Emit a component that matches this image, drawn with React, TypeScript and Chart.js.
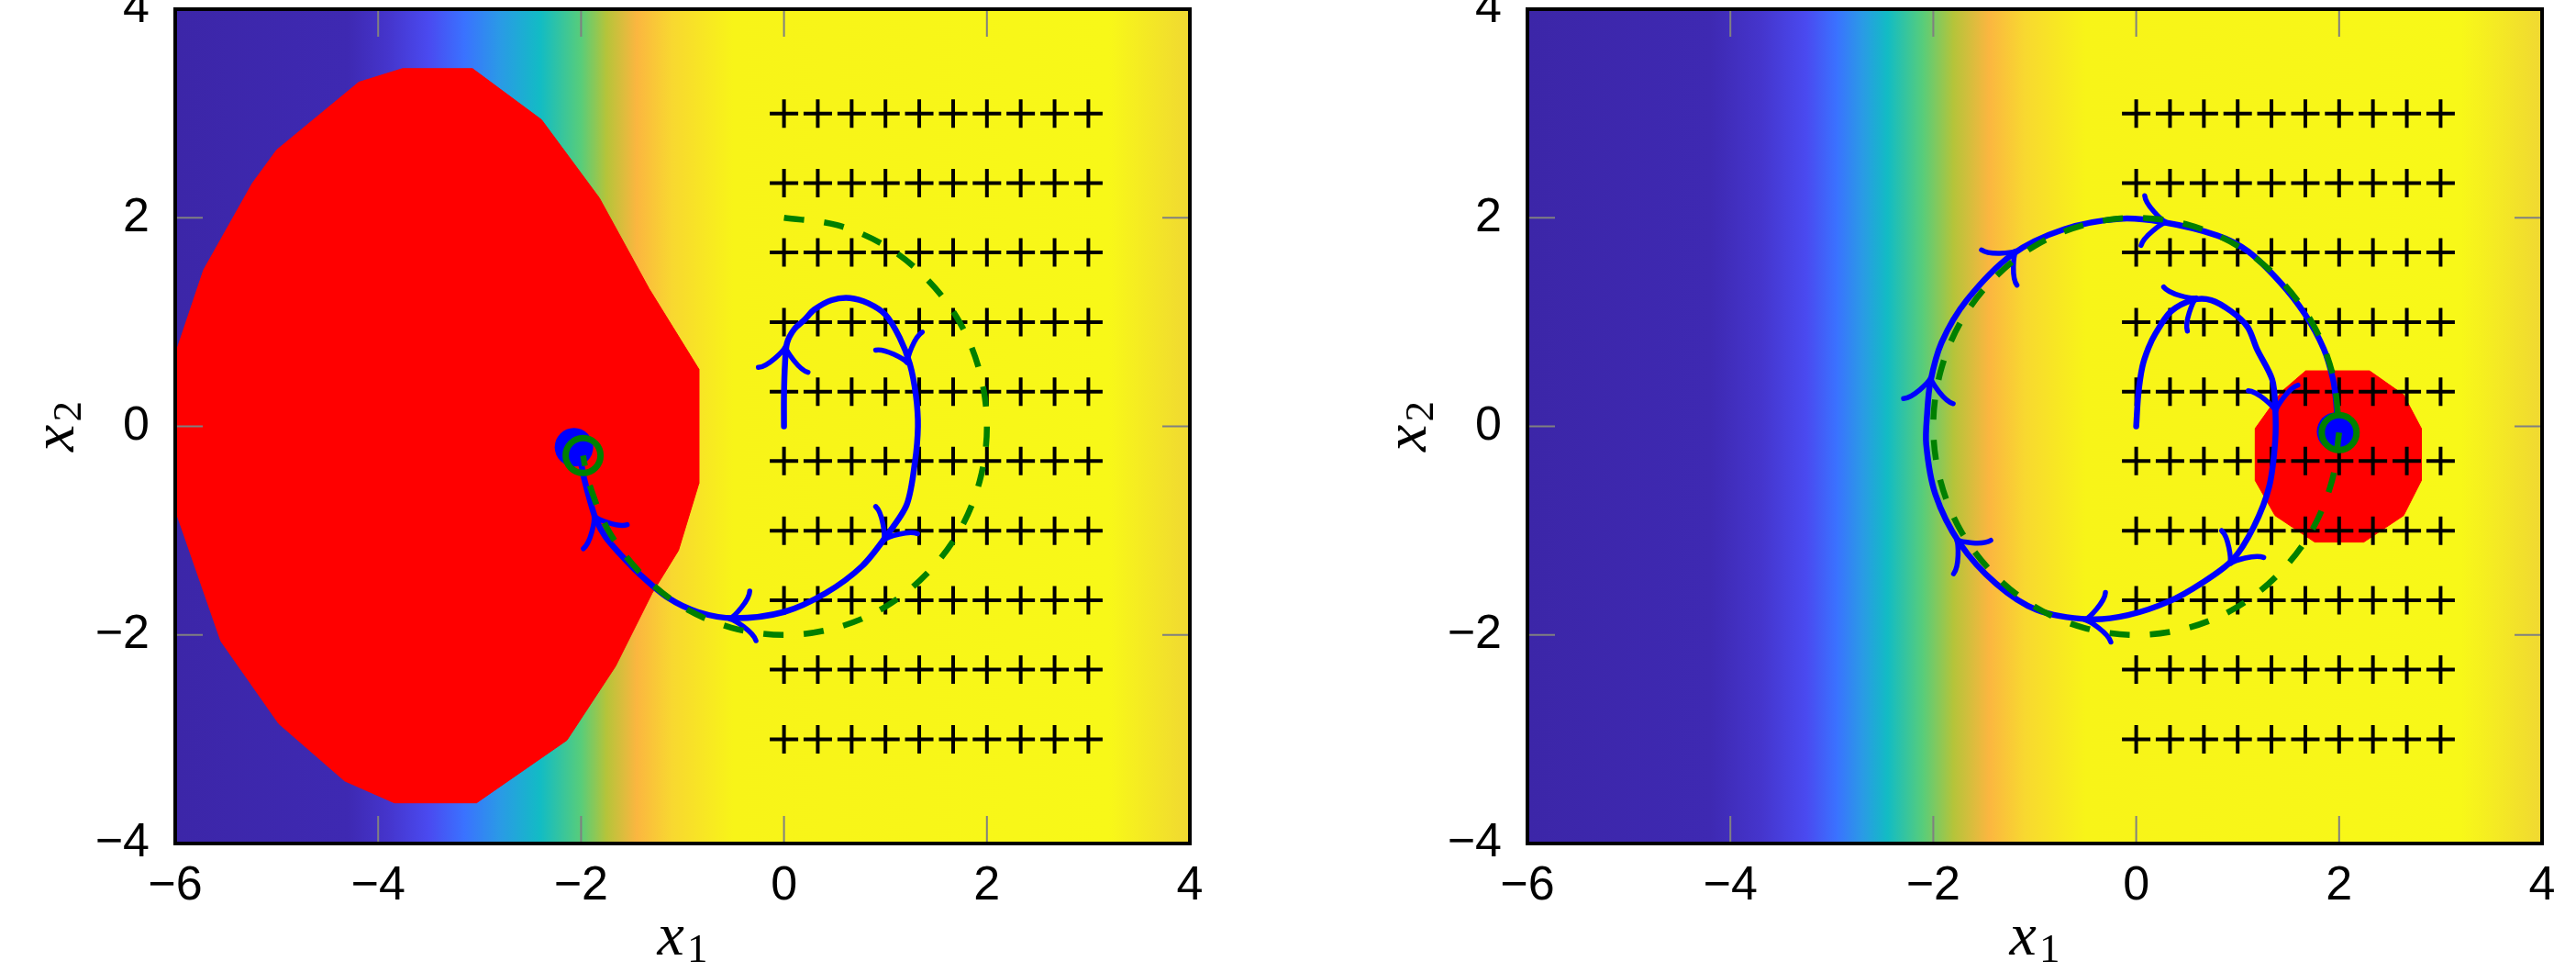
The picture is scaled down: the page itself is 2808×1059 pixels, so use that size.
import React, { useEffect, useRef } from 'react';
import { Chart, registerables } from 'chart.js';
Chart.register(...registerables);

// ---------- data ----------
const crossX = [0, 0.333, 0.667, 1, 1.333, 1.667, 2, 2.333, 2.667, 3];
const crossY = [3, 2.333, 1.667, 1, 0.333, -0.333, -1, -1.667, -2.333, -3];

const leftBgStopX = [-6, -4.3, -3.9, -3.5, -3.15, -2.8, -2.4, -2.0, -1.75, -1.45, -1.1, -0.5, 3.2, 4];
const leftBgStopColor = ['#3c26a8', '#3e29b2', '#4535cc', '#4a4af0', '#3a72ff', '#2a9ae6', '#12bcc4', '#58cd7a', '#b5c43a', '#fbb640', '#f8d830', '#f8f418', '#f8f818', '#f0d832'];
const rightBgStopX = [-6, -4.2, -3.7, -3.25, -2.95, -2.7, -2.45, -2.1, -1.8, -1.45, -1.1, -0.5, 3.2, 4];
const rightBgStopColor = ['#3c26a8', '#3e29b2', '#4535cc', '#4a4af0', '#3a72ff', '#2a9ae6', '#12bcc4', '#58cd7a', '#b5c43a', '#fbb640', '#f8d830', '#f8f418', '#f8f818', '#f0d832'];

const leftRegionX = [-3.76, -3.07, -2.39, -1.82, -1.33, -0.84, -0.84, -1.04, -1.3, -1.66, -2.14, -3.03, -3.84, -4.33, -4.98, -5.55, -6.0, -6.0, -5.72, -5.24, -5.0, -4.19, -3.76];
const leftRegionY = [3.43, 3.43, 2.94, 2.19, 1.32, 0.55, -0.55, -1.19, -1.6, -2.3, -3.01, -3.61, -3.61, -3.4, -2.85, -2.06, -0.8, 0.69, 1.5, 2.33, 2.65, 3.3, 3.43];
const rightRegionX = [1.67, 2.3, 2.635, 2.81, 2.81, 2.635, 2.243, 1.76, 1.369, 1.173, 1.173, 1.43, 1.67];
const rightRegionY = [0.532, 0.532, 0.303, -0.02, -0.52, -0.856, -1.11, -1.11, -0.856, -0.52, -0.02, 0.33, 0.532];

const leftTrajX = [0, 0, 0.01, 0.03, 0.1, 0.2, 0.3, 0.47, 0.65, 0.83, 1.0, 1.14, 1.24, 1.3, 1.32, 1.29, 1.21, 1.01, 0.77, 0.41, 0.0, -0.49, -0.85, -1.15, -1.42, -1.62, -1.76, -1.85, -1.91, -1.97, -2.0, -2.05];
const leftTrajY = [0, 0.3, 0.6, 0.8, 0.93, 1.02, 1.12, 1.21, 1.23, 1.18, 1.07, 0.85, 0.6, 0.3, 0, -0.35, -0.75, -1.05, -1.34, -1.6, -1.78, -1.84, -1.78, -1.64, -1.42, -1.22, -1.06, -0.9, -0.72, -0.5, -0.36, -0.22];
const rightTrajX = [0, 0.02, 0.06, 0.12, 0.19, 0.34, 0.55, 0.74, 0.94, 1.1, 1.19, 1.34, 1.37, 1.37, 1.31, 1.16, 0.95, 0.65, 0.32, -0.08, -0.46, -0.98, -1.38, -1.74, -1.98, -2.07, -2.06, -2.03, -1.92, -1.67, -1.22, -0.71, -0.17, 0.25, 0.8, 1.1, 1.42, 1.66, 1.85, 1.94, 1.97, 1.99];
const rightTrajY = [0, 0.3, 0.57, 0.75, 0.89, 1.1, 1.21, 1.21, 1.1, 0.95, 0.74, 0.45, 0.19, -0.14, -0.58, -0.96, -1.28, -1.5, -1.68, -1.81, -1.85, -1.76, -1.51, -1.12, -0.65, -0.17, 0.13, 0.42, 0.8, 1.21, 1.65, 1.89, 1.99, 1.96, 1.83, 1.68, 1.38, 1.08, 0.74, 0.45, 0.24, -0.05];

const leftRefX = [0, 0.52, 1.0, 1.41, 1.73, 1.93, 2, 1.93, 1.73, 1.41, 1.0, 0.52, 0, -0.52, -1.0, -1.41, -1.73, -1.93, -1.98];
const leftRefY = [2, 1.93, 1.73, 1.41, 1.0, 0.52, 0, -0.52, -1.0, -1.41, -1.73, -1.93, -2, -1.93, -1.73, -1.41, -1.0, -0.52, -0.28];
const rightRefX = [2, 1.93, 1.73, 1.41, 1.0, 0.52, 0, -0.52, -1.0, -1.41, -1.73, -1.93, -2, -1.93, -1.73, -1.41, -1.0, -0.52, 0, 0.52, 1.0, 1.41, 1.73, 1.93, 2, 2];
const rightRefY = [-0.06, -0.52, -1.0, -1.41, -1.73, -1.93, -2, -1.93, -1.73, -1.41, -1.0, -0.52, 0, 0.52, 1.0, 1.41, 1.73, 1.93, 2, 1.93, 1.73, 1.41, 1.0, 0.52, 0, -0.06];

const leftArrowX = [0.01, 1.2, 1.01, -0.49, -1.85];
const leftArrowY = [0.72, 0.65, -1.05, -1.84, -0.9];
const rightArrowX = [0.55, 1.37, 0.95, -0.46, -1.74, -2.03, -1.22, 0.25];
const rightArrowY = [1.21, 0.19, -1.28, -1.85, -1.12, 0.42, 1.65, 1.96];

const leftDotX = [-2.07];
const leftDotY = [-0.2];
const leftRingX = [-1.98];
const leftRingY = [-0.28];
const rightDotX = [1.97];
const rightDotY = [-0.05];
const rightRingX = [2.0];
const rightRingY = [-0.06];

const xTickValues = [-6, -4, -2, 0, 2, 4];
const yTickValues = [-4, -2, 0, 2, 4];

// ---------- helpers ----------
type Pt = { x: number; y: number };
const zip = (xs: number[], ys: number[]): Pt[] => xs.map((x, i) => ({ x, y: ys[i] }));
const crossPoints = (): Pt[] => {
  const pts: Pt[] = [];
  crossY.forEach((y) => crossX.forEach((x) => pts.push({ x, y })));
  return pts;
};
const fmt = (v: number) => (v < 0 ? '\u2212' + Math.abs(v) : String(v));

const BLUE = '#0000ff';
const GREEN = '#008000';
const RED = '#ff0000';

interface Panel {
  left: number;
  yAxisWidth: number;
  rightPad: number;
  bgX: number[];
  bgC: string[];
  region: Pt[];
  traj: Pt[];
  ref: Pt[];
  arrows: Pt[];
  dot: Pt[];
  ring: Pt[];
}

const panels: Panel[] = [
  {
    left: 0, yAxisWidth: 191, rightPad: 107, bgX: leftBgStopX, bgC: leftBgStopColor,
    region: zip(leftRegionX, leftRegionY), traj: zip(leftTrajX, leftTrajY), ref: zip(leftRefX, leftRefY),
    arrows: zip(leftArrowX, leftArrowY), dot: zip(leftDotX, leftDotY), ring: zip(leftRingX, leftRingY),
  },
  {
    left: 1404, yAxisWidth: 261, rightPad: 37, bgX: rightBgStopX, bgC: rightBgStopColor,
    region: zip(rightRegionX, rightRegionY), traj: zip(rightTrajX, rightTrajY), ref: zip(rightRefX, rightRefY),
    arrows: zip(rightArrowX, rightArrowY), dot: zip(rightDotX, rightDotY), ring: zip(rightRingX, rightRingY),
  },
];

const CW = 1404;
const CH = 1059;
const XAXIS_H = 140;
const TRAJ_INDEX = 3;

function makeChart(canvas: HTMLCanvasElement, p: Panel) {
  const bgPlugin = {
    id: 'bgMap',
    beforeDatasetsDraw(chart: any) {
      const { ctx, chartArea: ca, scales } = chart;
      const xs = scales.x;
      const x0 = xs.getPixelForValue(p.bgX[0]);
      const x1 = xs.getPixelForValue(p.bgX[p.bgX.length - 1]);
      const g = ctx.createLinearGradient(x0, 0, x1, 0);
      p.bgX.forEach((v: number, i: number) => {
        g.addColorStop((xs.getPixelForValue(v) - x0) / (x1 - x0), p.bgC[i]);
      });
      ctx.save();
      ctx.fillStyle = g;
      ctx.fillRect(ca.left, ca.top, ca.right - ca.left, ca.bottom - ca.top);
      ctx.restore();
    },
  };

  const arrowPlugin = {
    id: 'arrows',
    afterDatasetDraw(chart: any, args: any) {
      if (args.index !== TRAJ_INDEX) return;
      const { ctx, scales, chartArea: ca } = chart;
      const pts = p.traj.map((q) => ({ x: scales.x.getPixelForValue(q.x), y: scales.y.getPixelForValue(q.y) }));
      ctx.save();
      ctx.beginPath();
      ctx.rect(ca.left, ca.top, ca.right - ca.left, ca.bottom - ca.top);
      ctx.clip();
      ctx.strokeStyle = BLUE;
      ctx.lineWidth = 5.5;
      ctx.lineCap = 'round';
      ctx.lineJoin = 'round';
      const u = 6.8;
      p.arrows.forEach((a) => {
        const P = { x: scales.x.getPixelForValue(a.x), y: scales.y.getPixelForValue(a.y) };
        let best = 0;
        let bestD = Infinity;
        for (let i = 0; i < pts.length - 1; i++) {
          const A = pts[i], B = pts[i + 1];
          const vx = B.x - A.x, vy = B.y - A.y;
          const L2 = vx * vx + vy * vy || 1;
          let t = ((P.x - A.x) * vx + (P.y - A.y) * vy) / L2;
          t = Math.max(0, Math.min(1, t));
          const dx = A.x + t * vx - P.x, dy = A.y + t * vy - P.y;
          const d = dx * dx + dy * dy;
          if (d < bestD) { bestD = d; best = i; }
        }
        const A = pts[best], B = pts[best + 1];
        let dx = B.x - A.x, dy = B.y - A.y;
        const len = Math.hypot(dx, dy) || 1;
        dx /= len; dy /= len;
        const nx = -dy, ny = dx;
        const pt = (back: number, side: number) => ({ x: P.x + back * dx + side * nx, y: P.y + back * dy + side * ny });
        const tip = pt(0.75 * u, 0);
        const e1 = pt(-3 * u, 4 * u), c11 = pt(-2.75 * u, 2.5 * u), c12 = pt(0, 0.25 * u);
        const e2 = pt(-3 * u, -4 * u), c21 = pt(-2.75 * u, -2.5 * u), c22 = pt(0, -0.25 * u);
        ctx.beginPath();
        ctx.moveTo(e1.x, e1.y);
        ctx.bezierCurveTo(c11.x, c11.y, c12.x, c12.y, tip.x, tip.y);
        ctx.bezierCurveTo(c22.x, c22.y, c21.x, c21.y, e2.x, e2.y);
        ctx.stroke();
      });
      ctx.restore();
    },
  };

  const framePlugin = {
    id: 'frame',
    afterDraw(chart: any) {
      const { ctx, chartArea: ca, scales } = chart;
      ctx.save();
      ctx.strokeStyle = '#808080';
      ctx.lineWidth = 2;
      const TL = 30;
      xTickValues.slice(1, -1).forEach((v) => {
        const x = scales.x.getPixelForValue(v);
        ctx.beginPath();
        ctx.moveTo(x, ca.top); ctx.lineTo(x, ca.top + TL);
        ctx.moveTo(x, ca.bottom); ctx.lineTo(x, ca.bottom - TL);
        ctx.stroke();
      });
      yTickValues.slice(1, -1).forEach((v) => {
        const y = scales.y.getPixelForValue(v);
        ctx.beginPath();
        ctx.moveTo(ca.left, y); ctx.lineTo(ca.left + TL, y);
        ctx.moveTo(ca.right, y); ctx.lineTo(ca.right - TL, y);
        ctx.stroke();
      });
      ctx.strokeStyle = '#000';
      ctx.lineWidth = 4;
      ctx.strokeRect(ca.left, ca.top, ca.right - ca.left, ca.bottom - ca.top);

      ctx.fillStyle = '#000';
      ctx.textBaseline = 'alphabetic';
      ctx.textAlign = 'left';
      const mainFont = 'italic 66px "Liberation Serif", "DejaVu Serif", serif';
      const subFont = '45px "Liberation Serif", "DejaVu Serif", serif';
      const drawTitle = (sub: string, cx: number, baseY: number) => {
        ctx.font = mainFont;
        const w1 = ctx.measureText('x').width;
        ctx.font = subFont;
        const w2 = ctx.measureText(sub).width;
        const total = w1 + 3 + w2;
        const sx = cx - total / 2;
        ctx.font = mainFont;
        ctx.fillText('x', sx, baseY);
        ctx.font = subFont;
        ctx.fillText(sub, sx + w1 + 3, baseY + 8);
      };
      drawTitle('1', (ca.left + ca.right) / 2, 1040);
      ctx.save();
      ctx.translate(ca.left - 111, (ca.top + ca.bottom) / 2);
      ctx.rotate(-Math.PI / 2);
      drawTitle('2', 0, 0);
      ctx.restore();
      ctx.restore();
    },
  };

  const tickFont = { family: '"Liberation Sans", Arial, Helvetica, sans-serif', size: 52 };

  return new Chart(canvas, {
    type: 'scatter',
    data: {
      datasets: [
        {
          data: p.ring, pointRadius: 19, pointBackgroundColor: 'rgba(0,0,0,0)', pointBorderColor: GREEN,
          pointBorderWidth: 7, order: 0, showLine: false,
        },
        {
          data: p.ref, showLine: true, borderColor: GREEN, borderWidth: 6.5, borderDash: [22, 22],
          pointRadius: 0, tension: 0.34, fill: false, order: 1,
        },
        {
          data: p.dot, pointRadius: 21, pointBackgroundColor: BLUE, pointBorderColor: BLUE, pointBorderWidth: 0,
          order: 2, showLine: false,
        },
        {
          data: p.traj, showLine: true, borderColor: BLUE, borderWidth: 6.5, pointRadius: 0, tension: 0.3,
          fill: false, order: 3, borderCapStyle: 'round', borderJoinStyle: 'round',
        },
        {
          data: crossPoints(), pointStyle: 'cross', pointRadius: 15.5, pointBorderColor: '#000',
          pointBorderWidth: 4, order: 4, showLine: false,
        },
        {
          data: p.region, showLine: true, fill: 'shape', backgroundColor: RED, borderColor: RED, borderWidth: 1,
          pointRadius: 0, tension: 0, order: 5,
        },
      ] as any,
    },
    options: {
      responsive: false,
      animation: false,
      devicePixelRatio: 1,
      events: [],
      layout: { autoPadding: false, padding: { left: 0, right: p.rightPad, top: 10, bottom: 0 } },
      plugins: { legend: { display: false }, tooltip: { enabled: false }, title: { display: false } },
      scales: {
        x: {
          type: 'linear', position: 'bottom', min: -6, max: 4,
          grid: { display: false, drawTicks: false },
          border: { display: false },
          ticks: {
            stepSize: 2, autoSkip: false, maxRotation: 0, minRotation: 0, padding: 15, color: '#000',
            font: tickFont, callback: (v: any) => fmt(Number(v)),
          },
          afterFit: (s: any) => { s.height = XAXIS_H; s.paddingLeft = 0; s.paddingRight = 0; },
        },
        y: {
          type: 'linear', position: 'left', min: -4, max: 4,
          grid: { display: false, drawTicks: false },
          border: { display: false },
          ticks: {
            stepSize: 2, autoSkip: false, padding: 28, color: '#000',
            font: tickFont, callback: (v: any) => fmt(Number(v)),
          },
          afterFit: (s: any) => { s.width = p.yAxisWidth; s.paddingTop = 0; s.paddingBottom = 0; },
        },
      },
    } as any,
    plugins: [bgPlugin, arrowPlugin, framePlugin],
  });
}

function PhasePanel({ panel }: { panel: Panel }) {
  const ref = useRef<HTMLCanvasElement | null>(null);
  useEffect(() => {
    if (!ref.current) return;
    const chart = makeChart(ref.current, panel);
    return () => chart.destroy();
  }, [panel]);
  return (
    <canvas
      ref={ref}
      width={CW}
      height={CH}
      style={{ position: 'absolute', left: panel.left, top: 0, width: CW, height: CH, display: 'block' }}
    />
  );
}

export default function App() {
  return (
    <div style={{ position: 'absolute', left: 0, top: 0, width: 2808, height: 1059, background: '#fff', overflow: 'hidden' }}>
      {panels.map((p, i) => (
        <PhasePanel key={i} panel={p} />
      ))}
    </div>
  );
}
